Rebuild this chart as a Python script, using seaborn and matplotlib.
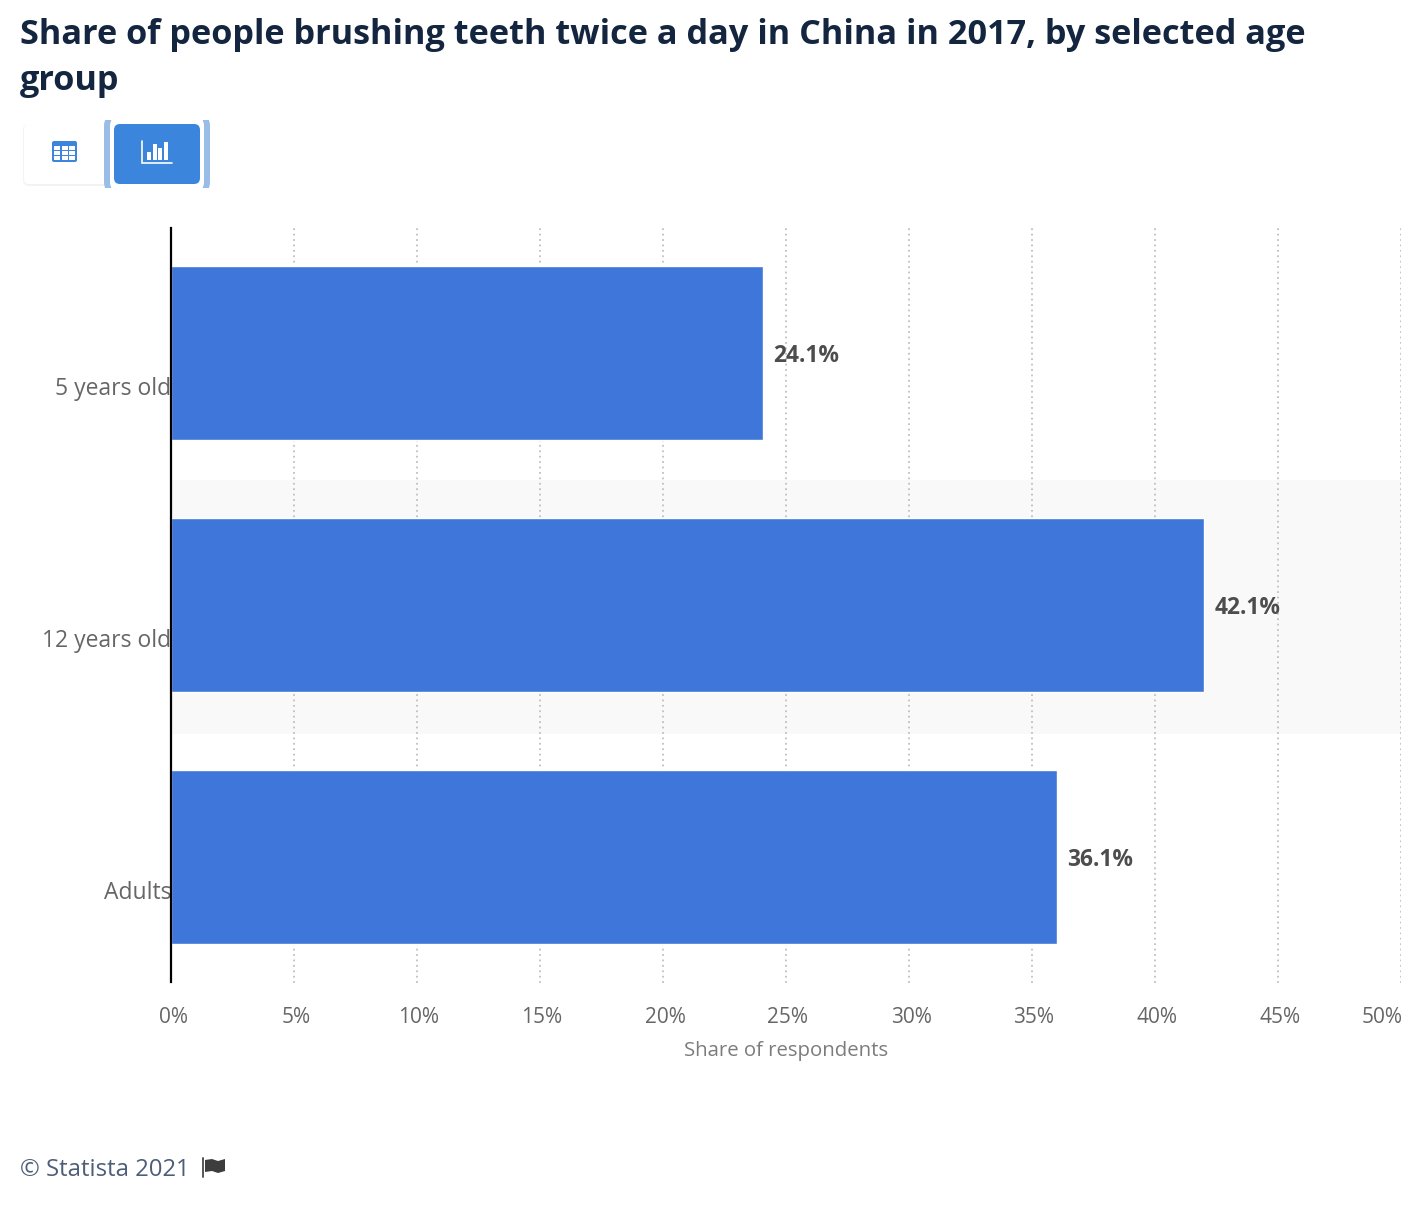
import matplotlib
matplotlib.use("Agg")
import matplotlib.pyplot as plt
from matplotlib.patches import FancyBboxPatch, Rectangle, Polygon
from matplotlib.transforms import ScaledTranslation
import pandas as pd
import seaborn as sns

# --- Data ---
age_groups = ["5 years old", "12 years old", "Adults"]
shares = [24.05, 42.0, 36.0]
share_labels = ["24.1%", "42.1%", "36.1%"]
x_ticks = [0, 5, 10, 15, 20, 25, 30, 35, 40, 45, 50]
x_tick_labels = ["0%", "5%", "10%", "15%", "20%", "25%", "30%", "35%", "40%", "45%", "50%"]

W, H = 1422, 1206
BAR_BLUE = "#3f76d9"
BTN_BLUE = "#3b86dc"

sns.set_theme(style="white")
plt.rcParams["font.family"] = ["Open Sans", "DejaVu Sans"]

fig = plt.figure(figsize=(W / 100, H / 100), dpi=100, facecolor="white")
ax = fig.add_axes([171 / W, 1 - 983 / H, (1401 - 171) / W, (983 - 227) / H])

# --- Bars ---
df = pd.DataFrame({"age": age_groups, "share": shares})
ax.axhspan(0.505, 1.51, color="#f9f9f9", zorder=0, lw=0)
sns.barplot(data=df, x="share", y="age", orient="h", color=BAR_BLUE, saturation=1,
            width=0.693, ax=ax, zorder=3)
ax.set_xlim(0, 50)
ax.set_ylim(2.5, -0.5)
ax.set_xlabel("")
ax.set_ylabel("")

ax.set_xticks(x_ticks)
ax.set_xticklabels(x_tick_labels)
ax.xaxis.grid(True, linestyle=(0, (1, 2)), color="#c0c0c0", linewidth=1.3, zorder=1)
ax.set_axisbelow(True)
ax.tick_params(axis="both", length=0)
ax.tick_params(axis="x", labelsize=15, labelcolor="#666666", pad=17)
ax.tick_params(axis="y", labelsize=16.5, labelcolor="#666666", pad=0)

for side in ["top", "right", "bottom"]:
    ax.spines[side].set_visible(False)
ax.spines["left"].set_color("black")
ax.spines["left"].set_linewidth(1.6)
ax.spines["left"].set_zorder(5)
ax.spines["left"].set_bounds(-0.495, 2.497)

# tick labels sit a bit off their tick in the original
for lab in ax.get_xticklabels():
    lab.set_transform(lab.get_transform() + ScaledTranslation(2 / 100, 0, fig.dpi_scale_trans))
last = ax.get_xticklabels()[-1]
last.set_ha("right")
for lab in ax.get_yticklabels():
    lab.set_transform(lab.get_transform() + ScaledTranslation(0, -33 / 100, fig.dpi_scale_trans))

# --- Value labels ---
for i, (v, s) in enumerate(zip(shares, share_labels)):
    ax.annotate(s, (v, i), xytext=(7.5, -2), textcoords="offset points", va="center", ha="left",
                fontsize=16.4, fontweight="bold", color="#4d4d4d", zorder=6)

ax.text(0.5, -0.0901, "Share of respondents", transform=ax.transAxes, ha="center", va="center",
        fontsize=14.7, color="#7c7c7c")

# --- Overlay in pixel coordinates for the page furniture ---
ov = fig.add_axes([0, 0, 1, 1], facecolor="none")
ov.set_xlim(0, W)
ov.set_ylim(H, 0)
ov.axis("off")

NAVY = "#14263f"
ov.text(20, 35, "Share of people brushing teeth twice a day in China in 2017, by selected age",
        fontsize=24.67, fontweight="bold", color=NAVY, va="center", ha="left")
ov.text(20, 81, "group", fontsize=24.67, fontweight="bold", color=NAVY, va="center", ha="left")


def round_box(x0, y0, x1, y1, r, **kw):
    p = FancyBboxPatch((x0 + r, y0 + r), x1 - x0 - 2 * r, y1 - y0 - 2 * r,
                       boxstyle=f"round,pad={r},rounding_size={r}", **kw)
    ov.add_patch(p)
    return p


# table button
round_box(23, 124, 112, 186, 6, fc="#f3f3f3", ec="none")
round_box(24, 124, 110, 184, 5, fc="white", ec="none")
round_box(52, 141, 77, 162, 2, fc=BTN_BLUE, ec="none")
for cx in [54, 61.7, 69.3]:
    for cy in [145.5, 151, 156]:
        ov.add_patch(Rectangle((cx, cy), 6, 4, fc="white", ec="none"))

# chart button with focus ring, ring is clipped top and bottom
clip = Rectangle((100, 120), 114, 68, transform=ov.transData)
ring = round_box(104, 114, 210, 194, 12, fc="#9abde8", ec="none")
ring.set_clip_path(clip)
inner = round_box(110, 116, 204, 192, 10, fc="white", ec="none")
inner.set_clip_path(clip)
round_box(114, 124, 200, 184, 6, fc=BTN_BLUE, ec="none")
ov.plot([142, 142, 172], [141, 163, 163], color="white", lw=1.2, solid_joinstyle="miter")
for bx, by in [(147, 152), (153, 144), (158, 148), (164, 142)]:
    ov.add_patch(Rectangle((bx, by), 4, 160 - by, fc="white", ec="none"))

# --- Footer ---
ov.text(20, 1170, "© Statista 2021", fontsize=17.2, color="#4d5e78", va="center", ha="left")
ov.plot([203, 203], [1158, 1177], color="#555555", lw=1.4)
ov.add_patch(Polygon([(205, 1160), (212, 1159), (218, 1161), (225, 1159), (225, 1171),
                      (218, 1173), (212, 1171), (205, 1172)], fc="#3d3d3d", ec="none"))

fig.savefig("out.png", dpi=100, facecolor="white")
